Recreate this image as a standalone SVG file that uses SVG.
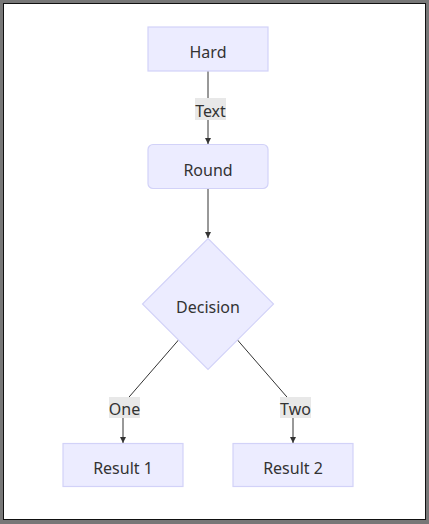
<svg xmlns="http://www.w3.org/2000/svg" width="429" height="524" viewBox="0 0 429 524">
<defs>
<marker id="arr" viewBox="0 0 10 10" refX="10" refY="5" markerWidth="6" markerHeight="6" markerUnits="userSpaceOnUse" orient="auto">
<path d="M0,0 L10,5 L0,10 z" fill="#333"/>
</marker>
</defs>
<style>
.node{fill:#ececff;stroke:#d2d2f8;stroke-width:1.2}
.lbl{font-family:"Noto Sans","Open Sans","Liberation Sans",sans-serif;font-size:16px;fill:#333;text-anchor:middle;dominant-baseline:central}
.edge{stroke:#333;stroke-width:1;fill:none}
.elbg{fill:#e8e8e8}
</style>
<rect x="0" y="0" width="429" height="524" fill="#777"/>
<rect x="3.5" y="3.5" width="422" height="516" fill="#fff" stroke="#111" stroke-width="1"/>
<g id="connectors">
<path class="edge" d="M208,71 L208,144" marker-end="url(#arr)"/>
<path class="edge" d="M208,188 L208,238" marker-end="url(#arr)"/>
<path class="edge" d="M178.5,340 L123,404 L123,443" marker-end="url(#arr)"/>
<path class="edge" d="M237.5,340 L293,404 L293,443" marker-end="url(#arr)"/>
<g id="label-text"><rect class="elbg" x="195" y="98" width="31" height="22"/><text class="lbl" x="210.5" y="111">Text</text></g>
<g id="label-one"><rect class="elbg" x="109" y="397" width="31" height="21"/><text class="lbl" x="124.5" y="409">One</text></g>
<g id="label-two"><rect class="elbg" x="280" y="397" width="31" height="21"/><text class="lbl" x="295.5" y="409">Two</text></g>
</g>
<g id="hard"><rect class="node" x="148" y="27" width="120" height="44"/><text class="lbl" x="208" y="52">Hard</text></g>
<g id="round"><rect class="node" x="148" y="144.5" width="120" height="44" rx="5" ry="5"/><text class="lbl" x="208" y="170">Round</text></g>
<g id="decision"><polygon class="node" points="208,238.5 273.5,304 208,369.5 142.5,304"/><text class="lbl" x="208" y="307">Decision</text></g>
<g id="result1"><rect class="node" x="63" y="443.5" width="120" height="43"/><text class="lbl" x="123" y="468">Result 1</text></g>
<g id="result2"><rect class="node" x="233" y="443.5" width="120" height="43"/><text class="lbl" x="293" y="468">Result 2</text></g>
</svg>
